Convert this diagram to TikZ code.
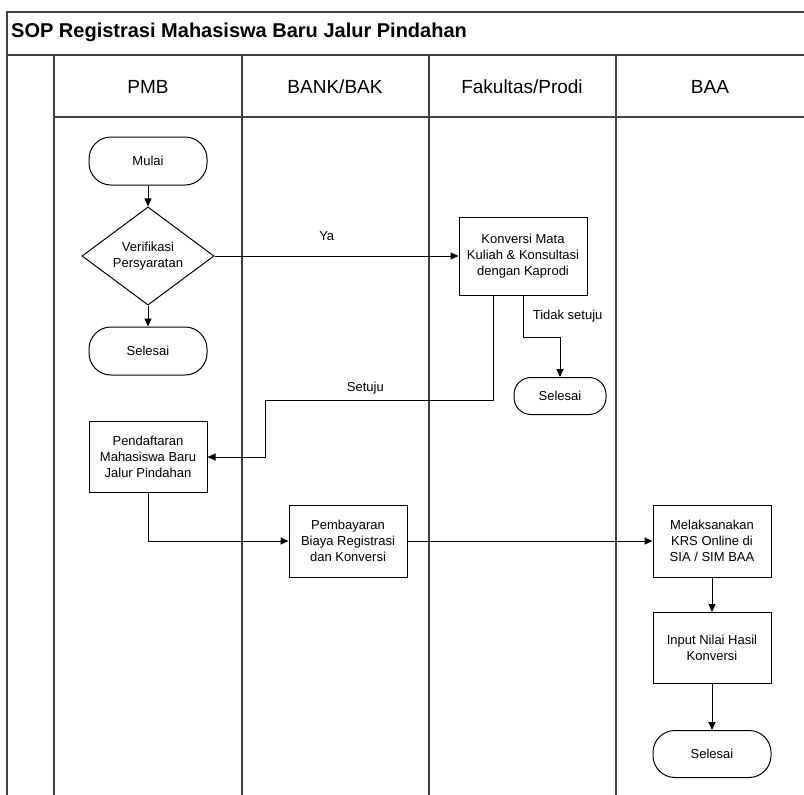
\documentclass[tikz,border=0pt]{standalone}
\usepackage{fontspec}
\setmainfont{Liberation Sans}
\usetikzlibrary{arrows.meta,shapes.geometric}
\tikzset{
	lane/.style={line width=1.4pt, color=black!75},
	txt/.style={font=\fontsize{13}{16}\selectfont},
	proc/.style={txt, draw, line width=1pt, minimum width=118pt, minimum height=72pt, align=center, inner sep=2pt},
	term/.style={txt, draw, line width=1pt, rounded corners=22pt, minimum width=118pt, minimum height=48pt},
	decide/.style={txt, diamond, draw, line width=1pt, minimum width=132pt, minimum height=78pt, inner sep=0pt, align=center},
	flow/.style={line width=1pt, -{Triangle[length=8pt,width=7pt]}},
}

\begin{document}
\begin{tikzpicture}[x=1pt, y=-1pt]
		%%%%% START %%%%%
		\useasboundingbox (0, 0) rectangle (804, 795);
		
		\draw[lane] (804, 12) -- (7, 12) -- (7, 795);
		\draw[lane] (7, 55) -- (804, 55);
		\draw[lane] (54, 117) -- (804, 117);
		\draw[lane] (54, 55) -- (54, 795);
		\draw[lane] (242, 55) -- (242, 795);
		\draw[lane] (429, 55) -- (429, 795);
		\draw[lane] (616, 55) -- (616, 795);
		
		\node[anchor=base west, inner sep=0pt, font=\bfseries\fontsize{20}{23}\selectfont] (title) at (11, 37) {SOP Registrasi Mahasiswa Baru Jalur Pindahan};
		
		\node[anchor=base, font=\fontsize{19}{22}\selectfont] (pmb) at (148, 93) {PMB};
		\node[anchor=base, font=\fontsize{19}{22}\selectfont] (bank) at (335, 93) {BANK/BAK};
		\node[anchor=base, font=\fontsize{19}{22}\selectfont] (fak) at (522, 93) {Fakultas/Prodi};
		\node[anchor=base, font=\fontsize{19}{22}\selectfont] (baa) at (710, 93) {BAA};
		
		%%%%% NODES %%%%%
		
		\node[term] (mulai) at (148, 161) {Mulai};
		\node[decide] (verif) at (148, 256) {Verifikasi\\Persyaratan};
		\node[term] (selesaiA) at (148, 351) {Selesai};
		
		\node[proc, minimum width=128pt, minimum height=78pt] (konversi) at (523, 256) {Konversi Mata\\Kuliah \& Konsultasi\\dengan Kaprodi};
		\node[term, minimum width=92pt, minimum height=37pt, rounded corners=17pt] (selesaiB) at (560, 396) {Selesai};
		
		\node[proc, minimum height=71pt] (daftar) at (148, 457) {Pendaftaran\\Mahasiswa Baru\\Jalur Pindahan};
		\node[proc] (bayar) at (348, 541) {Pembayaran\\Biaya Registrasi\\dan Konversi};
		
		\node[proc] (krs) at (712, 541) {Melaksanakan\\KRS Online di\\SIA / SIM BAA};
		\node[proc, minimum height=71pt] (input) at (712, 648) {Input Nilai Hasil\\Konversi};
		\node[term, minimum height=47pt] (selesaiC) at (712, 754) {Selesai};
		
		%%%%% ARROWS %%%%%
		
		\coordinate (setuju) at (265, 400);
		
		\draw[flow] (mulai) -- (verif);
		\draw[flow] (verif) -- (selesaiA);
		\draw[flow] (verif.east) -- node[txt, pos=0.46, above=12pt] (ya) {Ya} (konversi.west);
		\draw[flow] ([xshift=-30pt]konversi.south) |- node[txt, pos=0.78, above=2pt] (lblsetuju) {Setuju} (setuju) |- (daftar.east);
		\draw[flow] (konversi.south) |- node[txt, pos=0.25, anchor=west, xshift=6pt] (tidak) {Tidak setuju} ([yshift=40pt]selesaiB.north) -- (selesaiB.north);
		\draw[flow] (daftar.south) |- (bayar.west);
		\draw[flow] (bayar) -- (krs);
		\draw[flow] (krs) -- (input);
		\draw[flow] (input) -- (selesaiC);
		
		%%%%% END %%%%%
	\end{tikzpicture}
\end{document}
